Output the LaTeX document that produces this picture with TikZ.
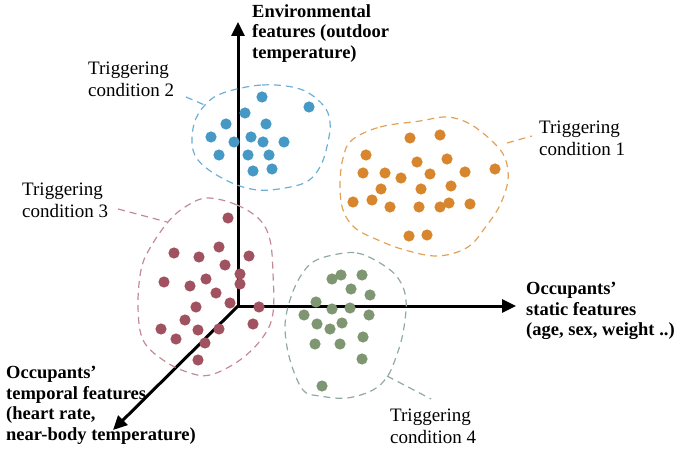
\documentclass[tikz,border=0pt]{standalone}
\usepackage{fontspec}
\setmainfont{Liberation Serif}
\usetikzlibrary{arrows.meta}
\definecolor{bdot}{HTML}{4599C4}
\definecolor{odot}{HTML}{D8862E}
\definecolor{rdot}{HTML}{A05260}
\definecolor{gdot}{HTML}{7E9672}
\definecolor{bline}{HTML}{6BB0D6}
\definecolor{oline}{HTML}{E3A057}
\definecolor{rline}{HTML}{C38A95}
\definecolor{gline}{HTML}{8FA9A3}
\begin{document}
\begin{tikzpicture}[x=1pt,y=-1pt,
  axis/.style={line width=3pt,-{Triangle[length=14pt,width=13pt]}},
  hull/.style={dash pattern=on 7pt off 5pt,line width=1.2pt},
  lbl/.style={inner sep=0pt,anchor=north west,align=left,font={\fontsize{19}{21.5}\selectfont}},
  albl/.style={lbl,font={\bfseries\fontsize{18.5}{20.5}\selectfont}}]
\useasboundingbox (0,0) rectangle (677,454);
% axes
\coordinate (O) at (238,306);
\coordinate (Y) at (238,22);
\coordinate (X) at (516,306);
\coordinate (Z) at (113,430);
\draw[axis] (O) -- (Y);
\draw[axis] (O) -- (X);
\draw[axis,shorten <=-1.5pt] (O) -- (Z);
% hulls
\draw[hull,bline] plot[smooth cycle,tension=0.6] coordinates {(223,93) (262,85) (300,89) (323,105) (330,122) (328,142) (321,165) (308,181) (285,188) (258,190) (232,183) (205,167) (193,150) (194,124) (205,105)};
\draw[hull,oline] plot[smooth cycle,tension=0.6] coordinates {(352,140) (380,127) (420,121) (447,117) (470,124) (493,142) (505,158) (508,180) (500,205) (487,225) (468,247) (438,256) (405,250) (378,240) (355,228) (343,210) (340,185) (343,158)};
\draw[hull,rline] plot[smooth cycle,tension=0.6] coordinates {(207,198) (237,205) (260,220) (270,240) (273,273) (273,313) (263,337) (240,360) (210,375) (187,372) (163,360) (143,340) (138,307) (141,270) (150,248) (168,222) (185,207)};
\draw[hull,gline] plot[smooth cycle,tension=0.6] coordinates {(333,255) (357,253) (380,263) (398,278) (406,300) (403,333) (395,360) (387,377) (373,390) (347,398) (320,396) (303,390) (290,360) (285,327) (290,300) (300,277) (313,262)};
% leaders
\coordinate (l2a) at (186,97); \coordinate (l2b) at (207,106);
\coordinate (l1a) at (507,143); \coordinate (l1b) at (532,136);
\coordinate (l3a) at (118,209); \coordinate (l3b) at (167,222);
\coordinate (l4a) at (387,376); \coordinate (l4b) at (431,399);
\draw[hull,bline] (l2a) -- (l2b);
\draw[hull,oline] (l1a) -- (l1b);
\draw[hull,rline] (l3a) -- (l3b);
\draw[hull,gline] (l4a) -- (l4b);
% dots
\foreach \p in {(262,97),(309,107),(245,113),(226,124),(266,124),(211,137),(234,142),(251,137),(263,142),(284,142),(219,155),(248,155),(269,155),(253,171),(272,169)}
  \fill[bdot] \p circle (5.6pt);
\foreach \p in {(410,138),(440,135),(366,155),(417,162),(447,159),(363,173),(385,173),(401,178),(430,174),(465,172),(495,169),(381,189),(421,189),(451,186),(353,202),(372,200),(390,207),(419,207),(440,207),(449,203),(470,204),(409,236),(427,235)}
  \fill[odot] \p circle (5.6pt);
\foreach \p in {(228,218),(174,253),(199,257),(219,247),(249,256),(225,265),(164,282),(190,286),(206,279),(240,274),(240,284),(216,293),(230,303),(196,307),(259,307),(185,320),(161,329),(198,330),(219,329),(253,324),(176,339),(205,343),(198,360)}
  \fill[rdot] \p circle (5.6pt);
\foreach \p in {(332,279),(341,275),(362,275),(351,289),(370,295),(316,302),(332,309),(350,308),(304,315),(369,315),(317,324),(342,323),(330,329),(315,344),(340,344),(363,337),(362,359),(322,386)}
  \fill[gdot] \p circle (5.6pt);
% labels
\node[albl] (tenv) at (252,4) {Environmental\\features (outdoor\\temperature)};
\node[albl] (tsta) at (526,282) {Occupants’\\static features\\(age, sex, weight ..)};
\node[albl] (ttem) at (6,366) {Occupants’\\temporal features\\(heart rate,\\near-body temperature)};
\node[lbl] (t2) at (88,62) {Triggering\\condition 2};
\node[lbl] (t1) at (539,121) {Triggering\\condition 1};
\node[lbl] (t3) at (22,183) {Triggering\\condition 3};
\node[lbl] (t4) at (390,409) {Triggering\\condition 4};
\end{tikzpicture}
\end{document}
